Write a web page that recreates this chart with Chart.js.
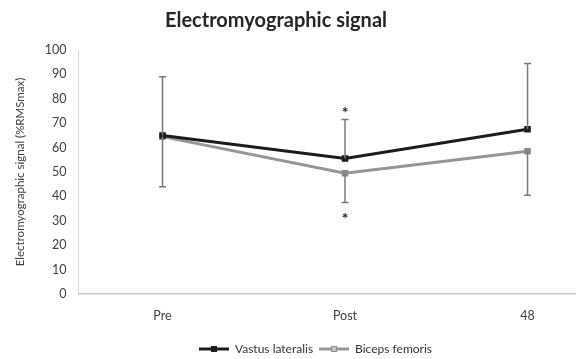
<!DOCTYPE html>
<html>
<head>
<meta charset="utf-8">
<script src="https://cdn.jsdelivr.net/npm/chart.js@4/dist/chart.umd.min.js"></script>
<style>
  html, body { margin: 0; padding: 0; background: #fff; }
  #wrap { width: 582px; height: 359px; position: relative; }
</style>
</head>
<body>
<div id="wrap"><canvas id="emgChart"></canvas></div>
<script>
// data
var timepoints = ['Pre', 'Post', '48'];
var vastusLateralis = [65, 55.5, 67.5];
var bicepsFemoris = [64.5, 49.5, 58.5];
// error bar ends: VL shows the upper bar, BF the lower bar
var vastusUpper = [89, 71.5, 94.5];
var bicepsLower = [44, 37.5, 40.5];
// significance markers at Post
var starValues = [76, 32.5];
var starIndex = 1;

var FONT = 'Lato, "Open Sans", sans-serif';

function toPoints(arr) {
  return arr.map(function (v, i) { return { x: i, y: v }; });
}

function legendSwatch(lineColor, fill, border) {
  var c = document.createElement('canvas');
  c.width = 30; c.height = 8;
  var g = c.getContext('2d');
  g.strokeStyle = lineColor; g.lineWidth = 3;
  g.beginPath(); g.moveTo(0, 4); g.lineTo(30, 4); g.stroke();
  g.fillStyle = fill; g.fillRect(12, 1, 6, 6);
  g.strokeStyle = border; g.lineWidth = 1; g.strokeRect(12.5, 1.5, 5, 5);
  return c;
}

var errorBars = {
  id: 'errorBars',
  afterLayout: function (chart) {
    // original figure is cropped on the right, so the legend sits right of centre
    chart.legend.left += 18;
    chart.legend.right += 18;
  },
  afterDatasetsDraw: function (chart) {
    var ctx = chart.ctx, x = chart.scales.x, y = chart.scales.y;
    ctx.save();
    ctx.strokeStyle = '#7a7a7a';
    ctx.lineWidth = 1.5;
    for (var i = 0; i < timepoints.length; i++) {
      var px = x.getPixelForValue(i);
      var segs = [[vastusLateralis[i], vastusUpper[i]], [bicepsFemoris[i], bicepsLower[i]]];
      segs.forEach(function (s) {
        var y0 = y.getPixelForValue(s[0]), y1 = y.getPixelForValue(s[1]);
        ctx.beginPath();
        ctx.moveTo(px, y0); ctx.lineTo(px, y1);
        ctx.moveTo(px - 3.5, y1); ctx.lineTo(px + 3.5, y1);
        ctx.stroke();
      });
    }
    // asterisks
    ctx.fillStyle = '#262626';
    ctx.font = 'bold 16px ' + FONT;
    ctx.textAlign = 'center';
    ctx.textBaseline = 'middle';
    starValues.forEach(function (v) {
      ctx.fillText('*', x.getPixelForValue(starIndex), y.getPixelForValue(v) + 4);
    });
    // title
    ctx.fillStyle = '#262626';
    ctx.font = 'bold 20px ' + FONT;
    ctx.fillText('Electromyographic signal', 276, 21);
    ctx.restore();
  }
};

var chart = new Chart(document.getElementById('emgChart'), {
  type: 'line',
  data: {
    datasets: [
      {
        label: 'Vastus lateralis',
        data: toPoints(vastusLateralis),
        borderColor: '#1c1c1c',
        backgroundColor: '#1c1c1c',
        borderWidth: 3,
        pointStyle: 'rect',
        pointRadius: 2.5,
        pointBorderColor: '#1c1c1c',
        pointBackgroundColor: '#1c1c1c',
        fill: false
      },
      {
        label: 'Biceps femoris',
        data: toPoints(bicepsFemoris),
        borderColor: '#969696',
        backgroundColor: '#969696',
        borderWidth: 3,
        pointStyle: 'rect',
        pointRadius: 2.5,
        pointBorderColor: '#8a8a8a',
        pointBackgroundColor: '#c8c8c8',
        fill: false
      }
    ]
  },
  options: {
    responsive: true,
    maintainAspectRatio: false,
    animation: false,
    layout: { padding: { top: 50, right: 0, left: 13, bottom: -6 } },
    plugins: {
      title: { display: false },
      tooltip: { enabled: false },
      legend: {
        position: 'bottom',
        labels: {
          color: '#333',
          font: { family: FONT, size: 12 },
          usePointStyle: true,
          pointStyleWidth: 30,
          padding: 6,
          generateLabels: function () {
            return [
              { text: 'Vastus lateralis', pointStyle: legendSwatch('#1c1c1c', '#1c1c1c', '#1c1c1c'), datasetIndex: 0, fontColor: '#333', lineWidth: 0 },
              { text: 'Biceps femoris', pointStyle: legendSwatch('#969696', '#c8c8c8', '#8a8a8a'), datasetIndex: 1, fontColor: '#333', lineWidth: 0 }
            ];
          }
        }
      }
    },
    scales: {
      x: {
        type: 'linear',
        // the original plot runs past the right edge of the picture
        min: -0.46,
        max: 2.26,
        afterBuildTicks: function (scale) {
          scale.ticks = timepoints.map(function (t, i) { return { value: i }; });
        },
        grid: { display: false, drawTicks: false },
        border: { color: '#c8c8c8', width: 1.5 },
        ticks: {
          color: '#404040',
          font: { family: FONT, size: 12.5 },
          padding: 14,
          callback: function (v) { return timepoints[v]; }
        }
      },
      y: {
        min: 0,
        max: 100,
        ticks: { stepSize: 10, color: '#404040', font: { family: FONT, size: 12.5 }, padding: 12 },
        grid: { display: false, drawTicks: false },
        border: { color: '#d9d9d9', width: 1 },
        title: {
          display: true,
          text: 'Electromyographic signal (%RMSmax)',
          color: '#404040',
          font: { family: FONT, size: 11.5 },
          padding: { top: 0, bottom: 6 }
        }
      }
    }
  },
  plugins: [errorBars]
});
</script>
</body>
</html>
